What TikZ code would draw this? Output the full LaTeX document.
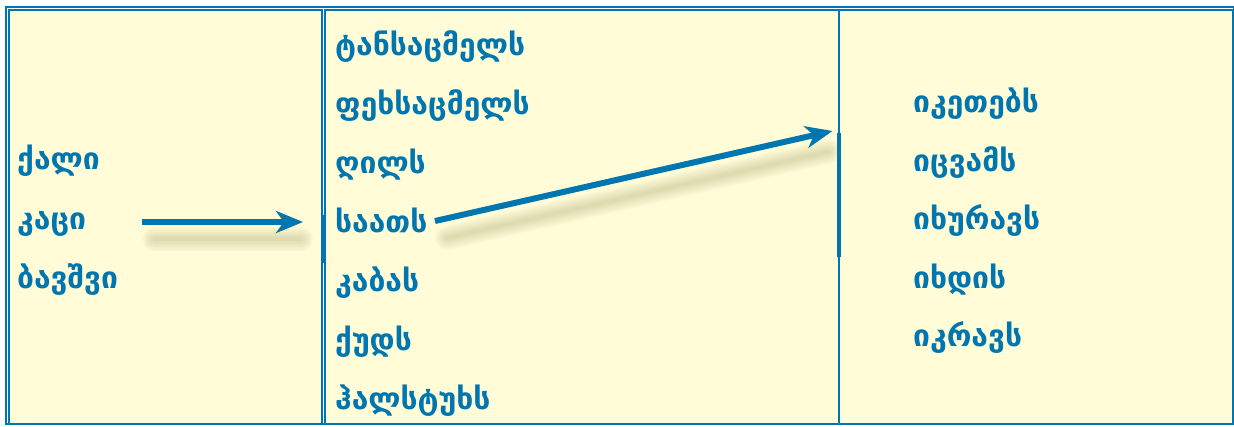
\documentclass[tikz,border=0pt]{standalone}
\usepackage{fontspec}
\newfontfamily\geofont{DejaVu Sans}
\usetikzlibrary{arrows.meta,calc}
\definecolor{inkblue}{RGB}{0,118,176}
\definecolor{cellbg}{RGB}{255,252,215}
\definecolor{shade}{RGB}{140,130,80}

\begin{document}
\begin{tikzpicture}[x=1pt,y=-1pt,
    word/.style={anchor=base west, inner sep=0pt, text=inkblue, font=\geofont\bfseries\fontsize{30}{30}\selectfont},
    cell/.style={draw=inkblue, line width=1.2pt, fill=cellbg},
    bar/.style={draw=inkblue, line width=3.5pt},
    pointer/.style={draw=inkblue, line width=6pt, -{Stealth[length=27pt,width=22pt,inset=8pt]}},
    shadowline/.style={draw=shade, line cap=round, opacity=0.035, transform canvas={shift={(12,17)}}}]
    \useasboundingbox (0,0) rectangle (1234,426);
    % frame and columns
    \draw[cell] (9,10) rectangle (322,424);
    \draw[cell] (325,10) rectangle (839,424);
    \draw[cell] (839,10) rectangle (1233,424);
    \draw[inkblue, line width=1.2pt] (6,7) rectangle (1233.5,424);
    \draw[bar] (323.5,215) -- (323.5,263);
    \draw[bar] (839,133) -- (839,257);
    % words
    \foreach \t [count=\i] in {ქალი,კაცი,ბავშვი}
        \node[word] (l\i) at (17,169.5+59.5*\i-59.5) {\t};
    \foreach \t [count=\i] in {ტანსაცმელს,ფეხსაცმელს,ღილს,საათს,კაბას,ქუდს,ჰალსტუხს}
        \node[word] (m\i) at (335,55.5+59*\i-59) {\t};
    \foreach \t [count=\i] in {იკეთებს,იცვამს,იხურავს,იხდის,იკრავს}
        \node[word] (r\i) at (913,112.5+58.5*\i-58.5) {\t};
    % arrows
    \coordinate (p1s) at (142,222);
    \coordinate (p1e) at (303,222);
    \coordinate (p2s) at (435,221);
    \coordinate (p2e) at (832.5,131);
    \foreach \w in {3,6,...,24} {
        \draw[shadowline, line width=\w] (p1s) -- ([xshift=-14pt]p1e);
        \draw[shadowline, line width=\w] (p2s) -- ($(p2s)!0.96!(p2e)$);
    }
    \draw[pointer] (p1s) -- (p1e);
    \draw[pointer] (p2s) -- (p2e);
\end{tikzpicture}
\end{document}
